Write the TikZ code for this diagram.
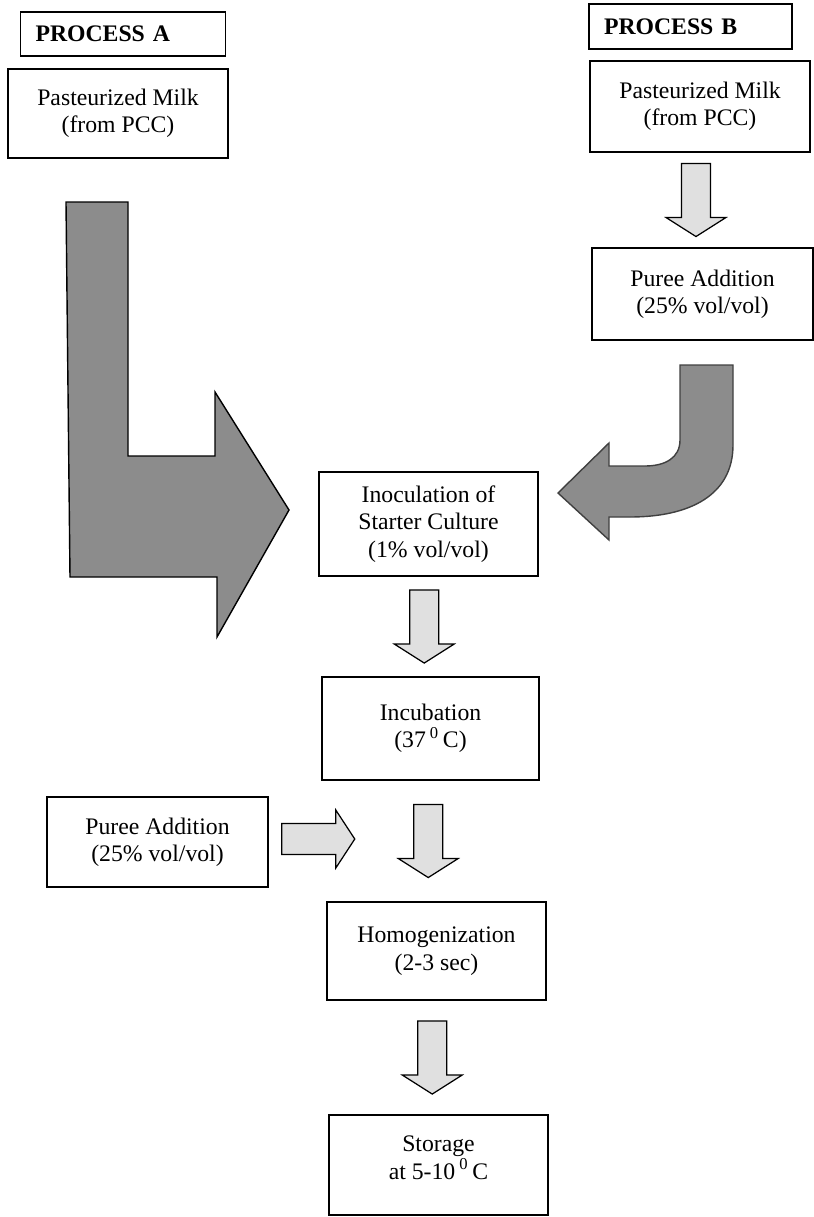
\documentclass[tikz,border=0pt]{standalone}
\usepackage{fontspec}
\setmainfont{Liberation Serif}
\usetikzlibrary{calc}
\definecolor{bigfill}{gray}{0.55}
\definecolor{smallfill}{gray}{0.88}
\newcommand{\boxfont}{\fontsize{13.5}{15.6}\selectfont}
% block arrow pointing down, centred in the gap between two boxes
\newcommand{\downblock}[2]{%
  \filldraw[smallarrow] let \p1=($(#1.south)!0.5!(#2.north)$) in
    (\x1-11.3pt,\y1+20.8pt) -- (\x1+5.2pt,\y1+20.8pt) -- (\x1+5.2pt,\y1-10pt)
    -- (\x1+14pt,\y1-10pt) -- (\x1-3pt,\y1-20.8pt) -- (\x1-20pt,\y1-10pt)
    -- (\x1-11.3pt,\y1-10pt) -- cycle;}
% block arrow pointing right, out of a box
\newcommand{\rightblock}[1]{%
  \filldraw[smallarrow] let \p1=(#1.east) in
    (\x1+7.4pt,\y1+10.5pt) -- (\x1+38.1pt,\y1+10.5pt) -- (\x1+38.1pt,\y1+18.2pt)
    -- (\x1+48.9pt,\y1+1.7pt) -- (\x1+38.1pt,\y1-14.8pt) -- (\x1+38.1pt,\y1-7.1pt)
    -- (\x1+7.4pt,\y1-7.1pt) -- cycle;}

\begin{document}
\begin{tikzpicture}[x=0.02cm, y=-0.02cm,
    box/.style={draw, line width=1pt, fill=white, align=center, font=\boxfont, inner sep=2pt},
    titlebox/.style={draw, line width=1pt, font=\boxfont\bfseries, align=left,
      inner xsep=0.3cm, text width=3.5cm},
    smallarrow/.style={fill=smallfill, draw=black, line width=0.7pt},
    bigarrow/.style={fill=bigfill, draw=black, line width=0.8pt}]
  \useasboundingbox (0,0) rectangle (814,1217);
  % headings
  \node[titlebox, minimum height=0.88cm] (procA) at (123,34) {PROCESS A};
  \node[titlebox, minimum height=0.9cm, text width=3.46cm] (procB) at (690.5,26.5) {PROCESS B};
  % process A / process B start
  \node[box, minimum width=4.4cm, minimum height=1.78cm] (milkA) at (118,113.5) {Pasteurized Milk\\(from PCC)};
  \node[box, minimum width=4.4cm, minimum height=1.82cm] (milkB) at (700,106.5) {Pasteurized Milk\\(from PCC)};
  \node[box, minimum width=4.42cm, minimum height=1.84cm] (pureeB) at (702.5,294) {Puree Addition\\(25\% vol/vol)};
  % common line
  \node[box, minimum width=4.38cm, minimum height=2.08cm] (inoc) at (428.5,524) {Inoculation of\\Starter Culture\\(1\% vol/vol)};
  \node[box, minimum width=4.34cm, minimum height=2.06cm] (incub) at (430.5,728.5) {Incubation\\(37\,\textsuperscript{0}\,C)};
  \node[box, minimum width=4.42cm, minimum height=1.8cm] (pureeA) at (157.5,842) {Puree Addition\\(25\% vol/vol)};
  \node[box, minimum width=4.38cm, minimum height=1.96cm] (homog) at (436.5,951) {Homogenization\\(2-3 sec)};
  \node[box, minimum width=4.38cm, minimum height=2.0cm, text depth=0.3cm] (store) at (438.5,1165) {Storage\\at 5-10\,\textsuperscript{0}\,C};
  % big L arrow of process A
  \filldraw[bigarrow] (66,202) -- (128,202) -- (128,456) -- (215,456) -- (215,392)
    -- (289,510) -- (217,637) -- (217,577) -- (70,577) -- cycle;
  % curved arrow of process B
  \filldraw[bigarrow, draw=black!75] (680,365) -- (733,365) -- (733,445)
    .. controls (733,495) and (690,517) .. (630,517) -- (609,517) -- (609,540)
    -- (558,493) -- (609,443) -- (609,466) -- (645,466)
    .. controls (665,466) and (680,458) .. (680,440) -- cycle;
  % small arrows
  \downblock{milkB}{pureeB}
  \downblock{inoc}{incub}
  \downblock{incub}{homog}
  \downblock{homog}{store}
  \rightblock{pureeA}
\end{tikzpicture}
\end{document}
